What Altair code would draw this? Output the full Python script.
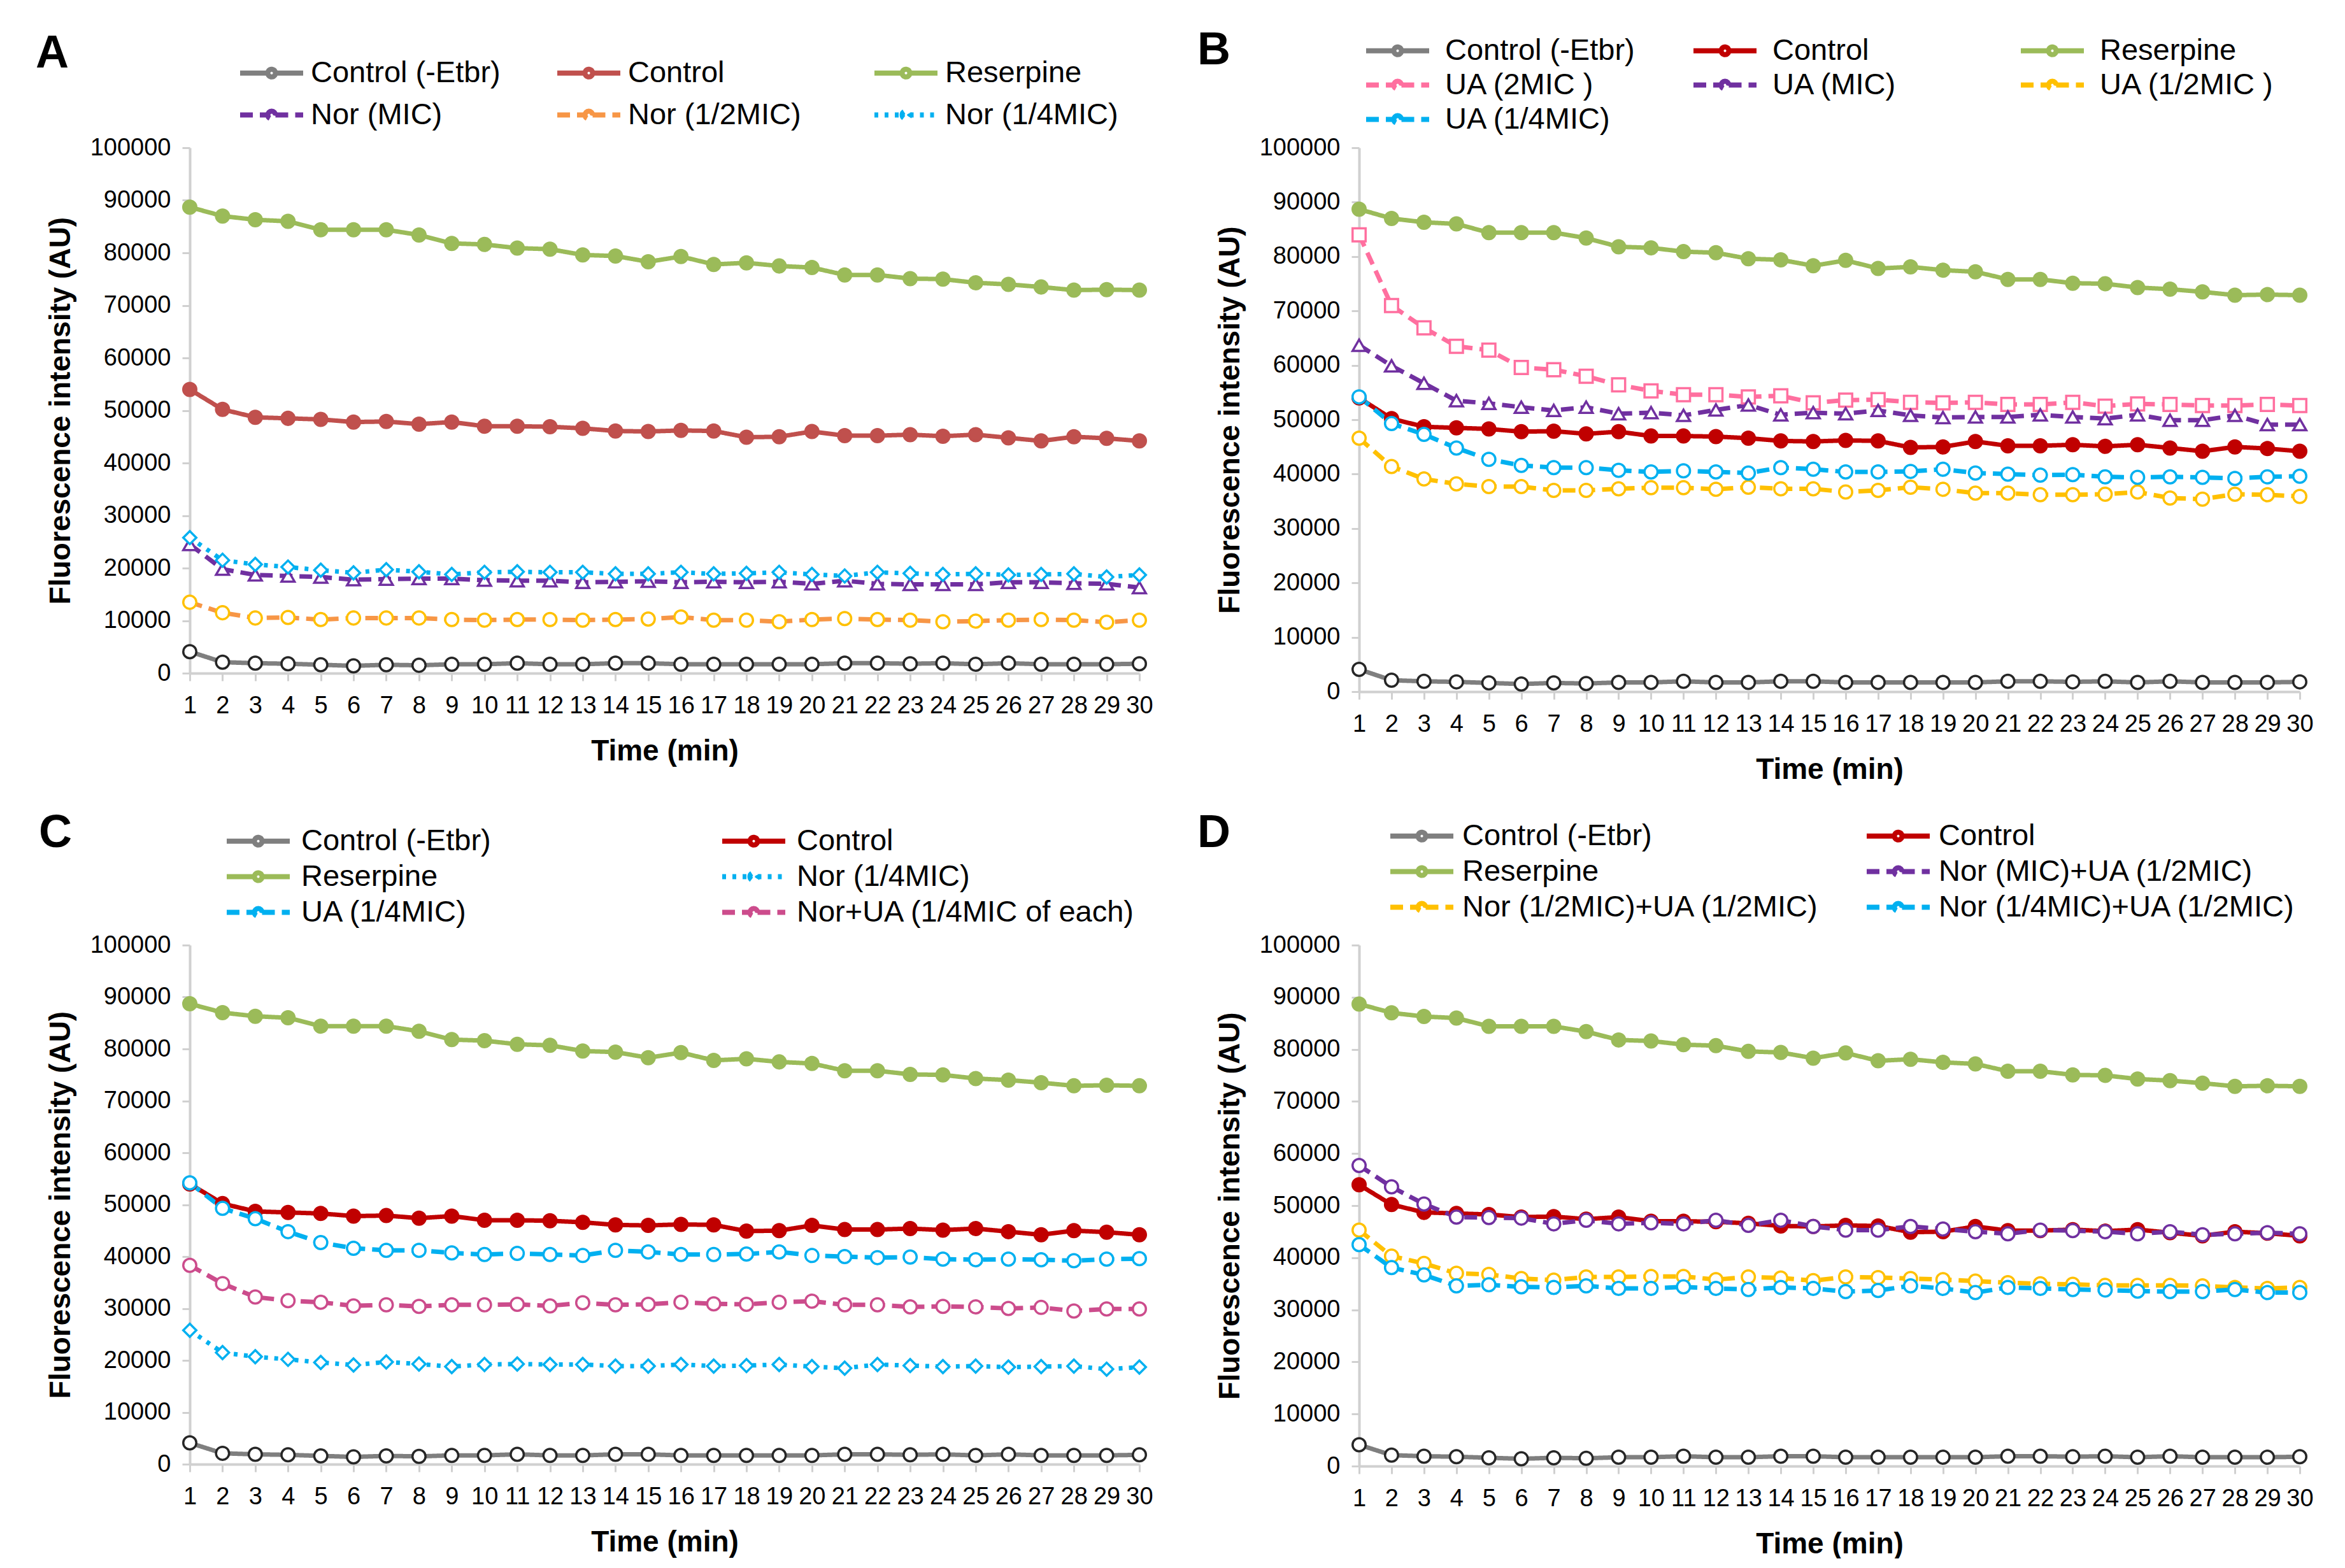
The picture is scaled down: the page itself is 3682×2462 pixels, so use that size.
import altair as alt
import pandas as pd

minutes = list(range(1, 31))

# shared series (same in every panel)
control_etbr = [4100, 2100, 1900, 1800, 1600, 1400, 1600, 1500, 1700, 1700, 1900, 1700, 1700, 1900, 1900,
                1700, 1700, 1700, 1700, 1700, 1900, 1900, 1800, 1900, 1700, 1900, 1700, 1700, 1700, 1800]
control = [54000, 50200, 48700, 48500, 48300, 47800, 47900, 47400, 47800, 47000, 47000, 46900, 46600, 46100, 46000,
           46200, 46100, 44900, 45000, 46000, 45200, 45200, 45400, 45100, 45400, 44800, 44200, 45000, 44700, 44200]
reserpine = [88700, 87000, 86300, 86000, 84400, 84400, 84400, 83400, 81800, 81600, 80900, 80700, 79600, 79400, 78300,
             79300, 77800, 78100, 77500, 77200, 75800, 75800, 75100, 75000, 74300, 74000, 73500, 72900, 73000, 72900]

# panel A
nor_mic = [24500, 19800, 18700, 18500, 18300, 17800, 17900, 18000, 18000, 17700, 17600, 17600, 17300, 17400, 17500,
           17300, 17400, 17300, 17400, 17000, 17600, 17000, 16900, 16900, 16900, 17300, 17300, 17100, 17000, 16300]
nor_half = [13500, 11500, 10500, 10600, 10200, 10500, 10500, 10500, 10200, 10100, 10200, 10200, 10100, 10200, 10300,
            10700, 10100, 10100, 9800, 10200, 10400, 10200, 10100, 9800, 9900, 10100, 10200, 10100, 9700, 10100]
nor_quarter = [25800, 21500, 20700, 20200, 19600, 19100, 19700, 19300, 18800, 19200, 19300, 19200, 19200, 18900, 18900,
               19200, 18900, 19000, 19200, 18800, 18500, 19200, 19000, 18800, 18900, 18700, 18800, 18900, 18300, 18700]

# panel B
ua_2mic = [84000, 71000, 66900, 63500, 62800, 59600, 59200, 58000, 56400, 55300, 54600, 54600, 54200, 54400, 53100,
           53600, 53700, 53200, 53100, 53200, 52800, 52800, 53200, 52500, 52900, 52800, 52600, 52600, 52800, 52600]
ua_mic = [63700, 59900, 56700, 53500, 53000, 52300, 51700, 52300, 51100, 51300, 50800, 51800, 52700, 50900, 51300,
          51100, 51700, 50800, 50400, 50500, 50500, 50900, 50500, 50200, 50900, 49900, 49900, 50800, 49100, 49100]
ua_half = [46600, 41400, 39100, 38200, 37700, 37700, 37000, 37000, 37300, 37500, 37500, 37200, 37600, 37300, 37300,
           36700, 37000, 37600, 37200, 36500, 36500, 36200, 36200, 36300, 36700, 35600, 35400, 36300, 36200, 35900]
ua_quarter = [54200, 49300, 47300, 44800, 42700, 41600, 41200, 41200, 40700, 40400, 40600, 40400, 40200, 41200, 40900,
              40400, 40400, 40500, 40900, 40200, 40000, 39800, 39900, 39500, 39400, 39500, 39400, 39200, 39500, 39600]

# panel C
nor_ua_quarter = [38300, 34800, 32200, 31500, 31200, 30500, 30700, 30400, 30700, 30700, 30800, 30500, 31100, 30700, 30800,
                  31200, 30900, 30800, 31200, 31400, 30700, 30700, 30300, 30400, 30300, 30000, 30200, 29500, 29900, 29900]

# panel D
nor_mic_ua_half = [57700, 53600, 50300, 47800, 47700, 47600, 46500, 47200, 46500, 46700, 46500, 47200, 46200, 47200, 46000,
                   45300, 45300, 46000, 45500, 45000, 44600, 45300, 45200, 45000, 44600, 45000, 44400, 44600, 44800, 44600]
nor_half_ua_half = [45300, 40300, 38900, 37000, 36800, 36000, 35700, 36300, 36300, 36400, 36400, 35800, 36300, 36100, 35600,
                    36300, 36200, 36000, 35800, 35500, 35200, 35000, 34900, 34700, 34700, 34700, 34600, 34300, 34100, 34300]
nor_quarter_ua_half = [42500, 38100, 36700, 34600, 34800, 34400, 34300, 34600, 34100, 34100, 34400, 34100, 33900, 34300, 34100,
                       33500, 33700, 34600, 34100, 33300, 34300, 34100, 33900, 33800, 33600, 33500, 33500, 33900, 33300, 33300]

SOLID = [1, 0]
DASH = [20, 11]
DOT = [6, 10]

# line colour, dash, marker shape, marker edge, marker fill
STYLES = {
    "etbr": ("#7F7F7F", SOLID, "circle", "#262626", "#FFFFFF"),
    "control_a": ("#C0504D", SOLID, "circle", "#C0504D", "#C0504D"),
    "control": ("#C00000", SOLID, "circle", "#C00000", "#C00000"),
    "reserpine": ("#9BBB59", SOLID, "circle", "#9BBB59", "#9BBB59"),
    "purple_tri": ("#7030A0", DASH, "triangle-up", "#7030A0", "#FFFFFF"),
    "orange": ("#F79646", DASH, "circle", "#FFC000", "#FFFFFF"),
    "cyan_dot": ("#00B0F0", DOT, "diamond", "#00B0F0", "#FFFFFF"),
    "pink_sq": ("#FF6F9F", DASH, "square", "#FF6F9F", "#FFFFFF"),
    "yellow": ("#FFC000", DASH, "circle", "#FFC000", "#FFFFFF"),
    "cyan": ("#00B0F0", DASH, "circle", "#00B0F0", "#FFFFFF"),
    "magenta": ("#CC4C8C", DASH, "circle", "#CC4C8C", "#FFFFFF"),
    "purple": ("#7030A0", DASH, "circle", "#7030A0", "#FFFFFF"),
}

# a short line with a small marker in the middle
LEGEND_SYMBOL = ("M-3.3,0L-0.4,0M0.4,0L3.3,0"
                 "M-0.4,0A0.4,0.4 0 1 1 0.4,0A0.4,0.4 0 1 1 -0.4,0")


def panel(letter, series, width, height, legend, title_dx, title_dy):
    legend_x, legend_y, columns, col_pad, row_pad, label_offset = legend
    names = [s[0] for s in series]
    keys = [s[2] for s in series]
    styles = [STYLES[k] for k in keys]
    rows = []
    for name, values, key in series:
        for m, v in zip(minutes, values):
            rows.append({"minute": m, "intensity": v, "series": name, "style": key})
    df = pd.DataFrame(rows)

    leg = alt.Legend(
        title=None, orient="none", legendX=legend_x, legendY=legend_y, direction="horizontal",
        columns=columns, columnPadding=col_pad, rowPadding=row_pad, gridAlign="all",
        symbolType=LEGEND_SYMBOL, symbolSize=900, symbolStrokeWidth=8,
        labelFontSize=47, labelOffset=label_offset, labelLimit=2000, labelColor="#000000",
        padding=0, offset=0,
    )
    x = alt.X("minute:Q", scale=alt.Scale(domain=[1, 30], nice=False, zero=False),
              axis=alt.Axis(values=minutes, format="d", title="Time (min)"))
    y = alt.Y("intensity:Q", scale=alt.Scale(domain=[0, 100000], nice=False),
              axis=alt.Axis(values=list(range(0, 100001, 10000)), format="d",
                            title="Fluorescence intensity (AU)"))

    lines = alt.Chart(df).mark_line(strokeWidth=7).encode(
        x=x, y=y,
        color=alt.Color("series:N", scale=alt.Scale(domain=names, range=[s[0] for s in styles]), legend=leg),
        strokeDash=alt.StrokeDash("series:N", scale=alt.Scale(domain=names, range=[s[1] for s in styles]), legend=leg),
    )
    points = alt.Chart(df).mark_point(size=420, strokeWidth=3.5, opacity=1).encode(
        x=x, y=y,
        shape=alt.Shape("style:N", scale=alt.Scale(domain=keys, range=[s[2] for s in styles]), legend=None),
        stroke=alt.Stroke("style:N", scale=alt.Scale(domain=keys, range=[s[3] for s in styles]), legend=None),
        fill=alt.Fill("style:N", scale=alt.Scale(domain=keys, range=[s[4] for s in styles]), legend=None),
    )
    return alt.layer(lines, points).properties(
        width=width, height=height,
        title=alt.TitleParams(letter, anchor="start", frame="group", fontSize=72, fontWeight="bold",
                              color="#000000", dx=title_dx, dy=title_dy, offset=0),
    )


panel_a = panel("A", [
    ("Control (-Etbr)", control_etbr, "etbr"),
    ("Control", control, "control_a"),
    ("Reserpine", reserpine, "reserpine"),
    ("Nor (MIC)", nor_mic, "purple_tri"),
    ("Nor (1/2MIC)", nor_half, "orange"),
    ("Nor (1/4MIC)", nor_quarter, "cyan_dot"),
], 1491, 825, (105, -141, 3, 73, 18, 38), -242, 30)

panel_b = panel("B", [
    ("Control (-Etbr)", control_etbr, "etbr"),
    ("Control", control, "control"),
    ("Reserpine", reserpine, "reserpine"),
    ("UA (2MIC )", ua_2mic, "pink_sq"),
    ("UA (MIC)", ua_mic, "purple_tri"),
    ("UA (1/2MIC )", ua_half, "yellow"),
    ("UA (1/4MIC)", ua_quarter, "cyan"),
], 1477, 854, (37, -176, 3, 76, 6, 51), -254, 60)

panel_c = panel("C", [
    ("Control (-Etbr)", control_etbr, "etbr"),
    ("Control", control, "control"),
    ("Reserpine", reserpine, "reserpine"),
    ("Nor (1/4MIC)", nor_quarter, "cyan_dot"),
    ("UA (1/4MIC)", ua_quarter, "cyan"),
    ("Nor+UA (1/4MIC of each)", nor_ua_quarter, "magenta"),
], 1491, 815, (84, -187, 2, 113, 8, 44), -237, 48)

panel_d = panel("D", [
    ("Control (-Etbr)", control_etbr, "etbr"),
    ("Control", control, "control"),
    ("Reserpine", reserpine, "reserpine"),
    ("Nor (MIC)+UA (1/2MIC)", nor_mic_ua_half, "purple"),
    ("Nor (1/2MIC)+UA (1/2MIC)", nor_half_ua_half, "yellow"),
    ("Nor (1/4MIC)+UA (1/2MIC)", nor_quarter_ua_half, "cyan"),
], 1477, 818, (75, -195, 2, 58, 8, 40), -254, 56)

chart = alt.concat(
    panel_a, panel_b, panel_c, panel_d,
    columns=2, spacing={"row": 398, "column": 345}, bounds="flush",
).resolve_scale(
    color="independent", strokeDash="independent", shape="independent",
    stroke="independent", fill="independent",
).properties(
    padding={"left": 48, "top": 35, "right": 0, "bottom": 0},
).configure(
    font="Liberation Sans, Arial, sans-serif",
).configure_view(
    stroke=None,
).configure_axis(
    grid=False, domainColor="#D0D0D0", domainWidth=4, tickColor="#D0D0D0", tickWidth=3, tickSize=12,
    labelFontSize=38, labelColor="#000000", titleFontSize=46, titleFontWeight="bold", titleColor="#000000",
).configure_axisX(
    labelPadding=20, titlePadding=30, labelFlush=False, labelOverlap=False,
).configure_axisY(
    labelPadding=18, titlePadding=22,
)

chart.save("out.html", embed_options={"renderer": "svg", "actions": False})
